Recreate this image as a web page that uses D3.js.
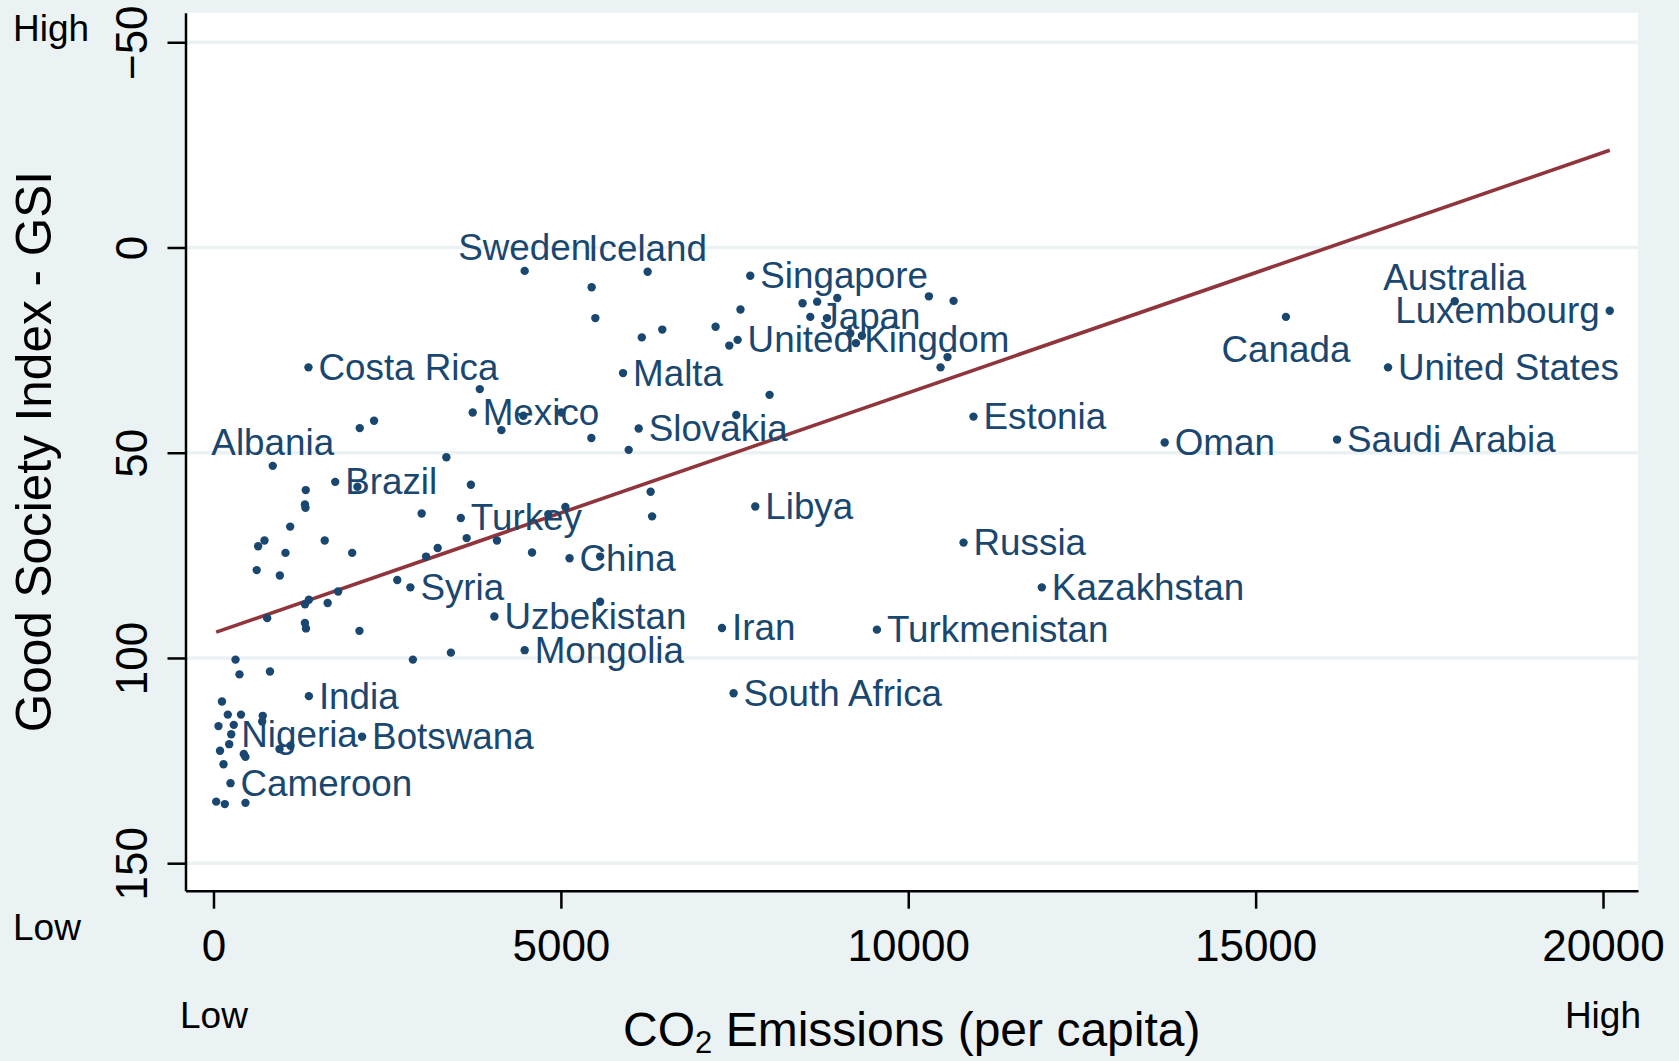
<!DOCTYPE html>
<html>
<head>
<meta charset="utf-8">
<script src="https://cdn.jsdelivr.net/npm/d3@7"></script>
<style>
  html, body { margin: 0; padding: 0; background: #eaf2f3; }
  svg { display: block; }
  text { font-family: "Liberation Sans", Arial, sans-serif; }
</style>
</head>
<body>
<svg id="chart" width="1679" height="1061"></svg>
<script>
// ---- Data ----
const labeledNames = ["Sweden","Iceland","Singapore","Japan","United Kingdom","Costa Rica","Malta","Mexico","Slovakia","Estonia","Canada","Australia","Luxembourg","United States","Oman","Saudi Arabia","Albania","Brazil","Libya","Turkey","China","Russia","Syria","Kazakhstan","Uzbekistan","Iran","Turkmenistan","Mongolia","South Africa","India","Nigeria","Botswana","Cameroon"];
const labeledCo2 = [4479,6249,7726,8590,7544,1367,5895,3731,6120,10939,15436,17866,20097,16906,13691,16172,853,1752,7798,3560,5125,10796,2834,11923,4043,7319,9549,4479,7486,1373,255,2139,245];
const labeledGsi = [5.7,5.9,6.9,16.9,22.5,29.2,30.6,40.2,44.1,41.2,16.9,13.1,15.4,29.2,47.5,46.8,53.2,57.1,63.1,65.9,75.7,71.9,82.8,82.8,89.9,92.7,93.1,98.1,108.6,109.3,118.6,119.2,130.5];
const labeledPos = ["t","t","r","r","r","r","r","r","r","r","b","t","l","r","r","r","t","r","r","r","r","r","r","r","r","r","r","r","r","r","r","r","r"];

const otherCo2 = [5443,5496,6165,6460,7227,7585,7424,8479,8689,8978,8830,9165,9333,9247,10297,10652,10565,10465,8004,7525,5976,5439,3833,4144,4460,5007,3352,2105,2311,2072,3705,1328,1316,1324,2996,4820,5065,6292,6313,1104,734,643,1036,1601,1996,3227,3060,3644,4080,4585,5565,622,955,2645,1794,1373,1643,1317,773,1316,1331,2101,5565,2870,3417,317,374,813,122,206,396,709,701,72,292,226,94,436,460,950,1108,144,39,163,460];
const otherGsi = [9.7,17.2,21.9,20.0,19.3,15.1,23.9,13.6,13.2,12.3,17.2,20.9,21.5,23.3,11.9,13.0,26.7,29.2,35.9,40.8,49.3,46.4,34.5,44.5,41.0,40.2,51.1,44.0,42.2,58.3,57.8,59.1,62.6,63.4,64.8,65.0,63.2,59.5,65.5,68.0,71.4,72.8,74.4,71.4,74.4,73.2,75.3,70.8,71.4,74.3,75.3,78.6,79.9,81.0,83.8,85.8,86.6,86.9,90.3,91.5,92.8,93.4,86.3,100.4,98.7,100.4,104.0,103.3,110.6,113.8,113.8,114.1,115.5,116.6,116.3,121.0,122.6,123.4,124.1,122.2,121.4,125.9,135.0,135.6,135.3];

const fitCo2 = [39, 20097];
const fitGsi = [93.7, -23.7];

const xTicks = [0, 5000, 10000, 15000, 20000];
const yTicks = [-50, 0, 50, 100, 150];

// ---- Colours ----
const bg = "#eaf2f3", navy = "#1a476f", maroon = "#90353b";

// ---- Layout ----
const plot = {left: 185.5, right: 1638, top: 12.7, bottom: 890.7};
const svg = d3.select("#chart");
svg.append("rect").attr("width", 1679).attr("height", 1061).attr("fill", bg);
svg.append("rect").attr("x", plot.left).attr("y", plot.top)
   .attr("width", plot.right - plot.left).attr("height", plot.bottom - plot.top)
   .attr("fill", "#ffffff");

const x = d3.scaleLinear().domain([-402.9, 20503.6]).range([plot.left, plot.right]);
const y = d3.scaleLinear().domain([-57.2, 156.7]).range([plot.top, plot.bottom]);

// gridlines
svg.append("g").selectAll("line").data(yTicks).join("line")
  .attr("x1", plot.left).attr("x2", plot.right)
  .attr("y1", d => y(d)).attr("y2", d => y(d))
  .attr("stroke", bg).attr("stroke-width", 3.5);

// fit line
svg.append("path")
  .datum(fitCo2.map((c, i) => [c, fitGsi[i]]))
  .attr("d", d3.line().x(d => x(d[0])).y(d => y(d[1])))
  .attr("fill", "none").attr("stroke", maroon).attr("stroke-width", 3.6);

// points
const pts = otherCo2.map((c, i) => ({c, g: otherGsi[i]}))
  .concat(labeledCo2.map((c, i) => ({c, g: labeledGsi[i]})));
svg.append("g").selectAll("circle").data(pts).join("circle")
  .attr("cx", d => x(d.c)).attr("cy", d => y(d.g)).attr("r", 4.2)
  .attr("fill", navy);

// labels
const labs = labeledNames.map((n, i) => ({n, c: labeledCo2[i], g: labeledGsi[i], p: labeledPos[i]}));
svg.append("g").selectAll("text").data(labs).join("text")
  .attr("x", d => d.p === "r" ? x(d.c) + 10 : d.p === "l" ? x(d.c) - 10 : x(d.c))
  .attr("y", d => d.p === "t" ? y(d.g) - 11 : d.p === "b" ? y(d.g) + 45 : y(d.g) + 12.5)
  .attr("text-anchor", d => d.p === "r" ? "start" : d.p === "l" ? "end" : "middle")
  .attr("font-size", 36.8).attr("fill", navy)
  .text(d => d.n);

// axes
const xAxis = svg.append("g").attr("transform", `translate(0,${plot.bottom})`)
  .call(d3.axisBottom(x).tickValues(xTicks).tickSize(18).tickSizeOuter(0).tickFormat(d3.format("d")));
const yAxis = svg.append("g").attr("transform", `translate(${plot.left},0)`)
  .call(d3.axisLeft(y).tickValues(yTicks).tickSize(18).tickSizeOuter(0).tickFormat(d3.format("d")));
[xAxis, yAxis].forEach(a => {
  a.select(".domain").attr("stroke", "#000").attr("stroke-width", 2.5);
  a.selectAll(".tick line").attr("stroke", "#000").attr("stroke-width", 2.5);
  a.selectAll("text").attr("fill", "#000").attr("font-size", 44)
    .attr("font-family", "'Liberation Sans', Arial, sans-serif");
});
xAxis.selectAll(".tick text").attr("y", 70).attr("dy", null);
yAxis.selectAll(".tick text").attr("x", null).attr("dy", null)
  .attr("text-anchor", "middle").attr("transform", "translate(-38.5,0) rotate(-90)");

// axis titles
svg.append("text").attr("text-anchor", "middle")
  .attr("transform", `translate(51,${(plot.top + plot.bottom) / 2}) rotate(-90)`)
  .attr("font-size", 49.5).attr("fill", "#000").text("Good Society Index - GSI");

const xt = svg.append("text").attr("text-anchor", "middle")
  .attr("x", (plot.left + plot.right) / 2).attr("y", 1046)
  .attr("font-size", 48).attr("fill", "#000");
xt.append("tspan").text("CO");
xt.append("tspan").attr("font-size", 31).attr("dy", 7).text("2");
xt.append("tspan").attr("dy", -7).text(" Emissions (per capita)");

// Low / High annotations
const ann = [
  {t: "High", x: 13, y: 41, a: "start"},
  {t: "Low", x: 13, y: 940, a: "start"},
  {t: "Low", x: 180, y: 1028, a: "start"},
  {t: "High", x: 1641, y: 1028, a: "end"}
];
svg.append("g").selectAll("text").data(ann).join("text")
  .attr("x", d => d.x).attr("y", d => d.y).attr("text-anchor", d => d.a)
  .attr("font-size", 37).attr("fill", "#000").text(d => d.t);
</script>
</body>
</html>
